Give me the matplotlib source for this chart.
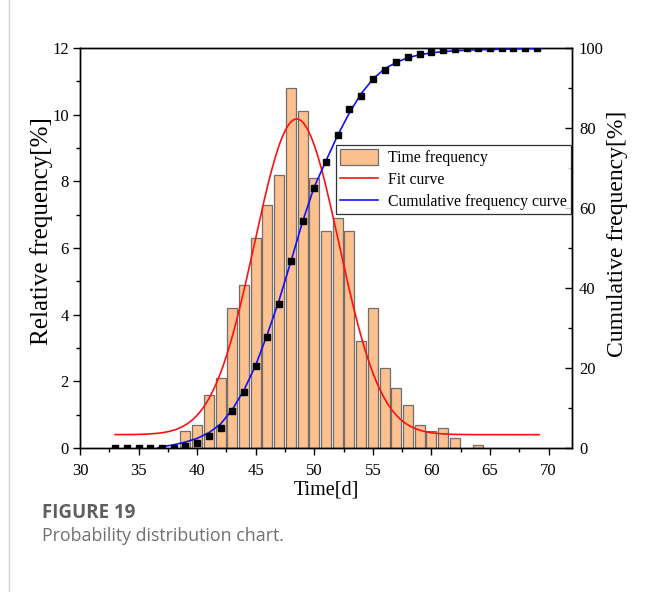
import numpy as np
import matplotlib
matplotlib.use("Agg")
import matplotlib.pyplot as plt
from matplotlib.ticker import MultipleLocator
from matplotlib.lines import Line2D
from matplotlib.patches import Patch

# ---------------- data ----------------
bar_days = [39, 40, 41, 42, 43, 44, 45, 46, 47, 48, 49, 50, 51, 52, 53, 54,
            55, 56, 57, 58, 59, 60, 61, 62, 64]
bar_freq = [0.5, 0.7, 1.6, 2.1, 4.2, 4.9, 6.3, 7.3, 8.2, 10.8, 10.1, 8.1,
            6.5, 6.9, 6.5, 3.2, 4.2, 2.4, 1.8, 1.3, 0.7, 0.5, 0.6, 0.3, 0.1]

cum_days = list(range(33, 70))
cum_vals = [0, 0, 0, 0, 0, 0, 0.6, 1.3, 2.9, 5.0, 9.2, 14.1, 20.4, 27.7,
            35.9, 46.7, 56.8, 64.9, 71.4, 78.3, 84.8, 88.0, 92.2, 94.6, 96.4,
            97.7, 98.4, 98.9, 99.5, 99.8, 99.9, 100, 100, 100, 100, 100, 100]

cumfit_x = [36.6, 37, 38, 39, 40, 41, 42, 43, 44, 45, 46, 47, 48, 49, 50,
            51, 52, 53, 54, 55, 56, 57, 58, 59, 60, 61, 62, 63, 64, 65, 66,
            67, 68, 69, 69.4]
cumfit_y = [0, 0.3, 0.8, 1.5, 2.4, 3.8, 6.0, 9.6, 14.5, 20.7, 28.5, 37.0,
            46.6, 56.6, 65.3, 71.8, 78.2, 83.8, 88.6, 92.2, 94.8, 96.4, 97.6,
            98.3, 98.8, 99.1, 99.3, 99.45, 99.55, 99.6, 99.7, 99.75, 99.8,
            99.85, 99.87]

# Gaussian fit curve parameters (baseline, amplitude, centre, sigma, range)
fit_y0, fit_A, fit_xc, fit_w = 0.40, 9.47, 48.5, 3.6
fit_range = (33.0, 69.2)

x_ticks = [30, 35, 40, 45, 50, 55, 60, 65, 70]
y_ticks = [0, 2, 4, 6, 8, 10, 12]
y2_ticks = [0, 20, 40, 60, 80, 100]

# ---------------- figure ----------------
serif = ["Liberation Serif", "DejaVu Serif"]
plt.rcParams["font.family"] = serif

W, H = 646, 592
fig = plt.figure(figsize=(W / 100, H / 100), dpi=100)
fig.patch.set_facecolor("white")
ax = fig.add_axes([80 / W, 1 - 448 / H, (572 - 80) / W, (448 - 48) / H])

ax.bar(bar_days, bar_freq, width=0.86, color="#FDC08F", edgecolor="#6e6e6e",
       linewidth=0.9, zorder=2)

xf = np.linspace(fit_range[0], fit_range[1], 400)
yf = fit_y0 + fit_A * np.exp(-(xf - fit_xc) ** 2 / (2 * fit_w ** 2))
ax.plot(xf, yf, color="#ff1010", lw=1.2, zorder=4)

ax.set_xlim(30, 72)
ax.set_ylim(0, 12)
ax.set_xticks(x_ticks)
ax.set_yticks(y_ticks)
ax.xaxis.set_minor_locator(MultipleLocator(2.5))
ax.yaxis.set_minor_locator(MultipleLocator(1))
ax.tick_params(axis="both", which="major", direction="out", length=5,
               width=1, labelsize=12, colors="black", pad=3)
ax.tick_params(axis="x", which="major", pad=6)
ax.tick_params(axis="both", which="minor", direction="out", length=3, width=1)
ax.tick_params(axis="x", top=False, which="both")
ax.tick_params(axis="y", right=False, which="both")
for s in ax.spines.values():
    s.set_linewidth(1.0)
    s.set_color("black")

ax.set_xlabel("Time[d]", fontsize=14.5)
ax.xaxis.set_label_coords(0.5, -(490 - 448) / 400)
ax.xaxis.label.set_va("center")
ax.set_ylabel("Relative frequency[%]", fontsize=18)
ax.yaxis.set_label_coords((42 - 80) / 492, (448 - 231) / 400)
ax.yaxis.label.set_va("center")

ax2 = ax.twinx()
ax2.set_ylim(0, 100)
ax2.set_yticks(y2_ticks)
ax2.yaxis.set_minor_locator(MultipleLocator(10))
ax2.tick_params(axis="y", which="major", direction="in", length=5, width=1,
                labelsize=12, pad=5)
ax2.tick_params(axis="y", which="minor", direction="in", length=3, width=1)
ax2.plot(cumfit_x, cumfit_y, color="#1010ff", lw=1.2, zorder=3)
ax2.plot(cum_days, cum_vals, ls="none", marker="s", ms=5, color="black",
         zorder=5)
ax2.set_ylabel("Cumulative frequency[%]", fontsize=17)
ax2.yaxis.set_label_coords((617 - 80) / 492, (448 - 234) / 400)
ax2.yaxis.label.set_va("center")
for s in ax2.spines.values():
    s.set_linewidth(1.0)

handles = [Patch(facecolor="#FDC08F", edgecolor="#6e6e6e", linewidth=0.9),
           Line2D([], [], color="#ff1010", lw=1.2),
           Line2D([], [], color="#1010ff", lw=1.2)]
labels = ["Time frequency", "Fit curve", "Cumulative frequency curve"]
leg = ax2.legend(handles, labels, loc="upper left",
                 bbox_to_anchor=((336 - 80) / 492, (448 - 145) / 400),
                 fontsize=11.3, frameon=True, fancybox=False, borderpad=0.25,
                 handlelength=2.4, handleheight=1.2, handletextpad=0.65,
                 labelspacing=0.3, borderaxespad=0)
leg.get_frame().set_edgecolor("black")
leg.get_frame().set_linewidth(0.9)

# page decoration and caption
fig.add_artist(Line2D([9 / W, 9 / W], [0, 1], color="#d0d0d0", lw=1.0))
fig.text(42 / W, 1 - 513 / H, "FIGURE 19", fontsize=13.5,
         fontweight="bold", color="#5f5f5f", family=["Open Sans", "DejaVu Sans"],
         va="center", ha="left")
fig.text(42 / W, 1 - 536 / H, "Probability distribution chart.",
         fontsize=12.8, color="#707070", family=["Open Sans", "DejaVu Sans"],
         va="center", ha="left")

fig.savefig("out.png", dpi=100)
